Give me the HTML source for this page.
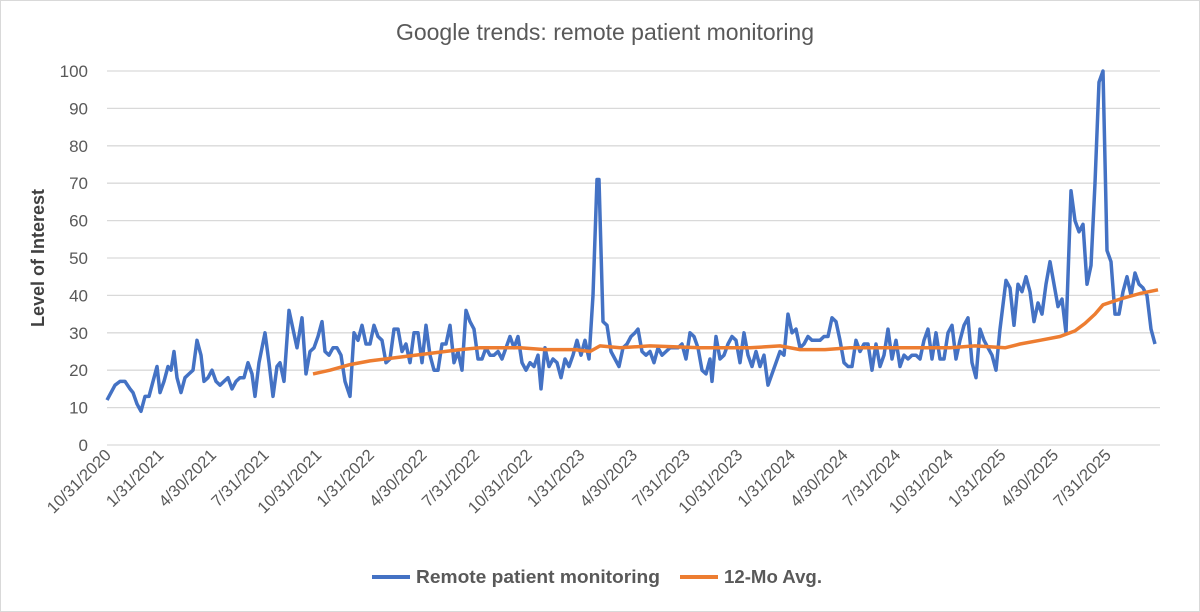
<!DOCTYPE html>
<html><head><meta charset="utf-8"><style>
body{margin:0;background:#fff;font-family:"Liberation Sans",sans-serif}
svg{display:block}
</style></head><body>
<svg id="s" width="1200" height="612" xmlns="http://www.w3.org/2000/svg" font-family="Liberation Sans, sans-serif">
<rect x="0.5" y="0.5" width="1199" height="611" fill="#fff" stroke="#d9d9d9"/>
<text x="605" y="40" text-anchor="middle" font-size="23" fill="#595959">Google trends: remote patient monitoring</text>
<text transform="translate(44,258) rotate(-90)" text-anchor="middle" font-size="18" font-weight="bold" fill="#404040">Level of Interest</text>
<g id="grid"></g>
<g id="xl"></g>
<polyline id="blue" fill="none" stroke="#4472c4" stroke-width="3.5" stroke-linejoin="round"/>
<polyline id="orng" fill="none" stroke="#ed7d31" stroke-width="3.5" stroke-linejoin="round"/>
<line x1="372" y1="577" x2="410" y2="577" stroke="#4472c4" stroke-width="4"/>
<text x="416" y="583" font-size="18.5" font-weight="bold" fill="#595959" textLength="244" lengthAdjust="spacingAndGlyphs">Remote patient monitoring</text>
<line x1="680" y1="577" x2="718" y2="577" stroke="#ed7d31" stroke-width="4"/>
<text x="724" y="583" font-size="18.5" font-weight="bold" fill="#595959" textLength="98" lengthAdjust="spacingAndGlyphs">12-Mo Avg.</text>
</svg>
<script>
function Y(v){return 445-v*3.74;}
var g=document.getElementById('grid'),s='';
for(var i=0;i<=10;i++){var y=Y(i*10);
s+='<line x1="107" x2="1160" y1="'+y+'" y2="'+y+'" stroke="#d9d9d9" stroke-width="1.3"/>';
s+='<text x="88" y="'+(y+6)+'" text-anchor="end" font-size="17" fill="#595959">'+(i*10)+'</text>';}
g.innerHTML=s;
var labs=["10/31/2020","1/31/2021","4/30/2021","7/31/2021","10/31/2021","1/31/2022","4/30/2022","7/31/2022","10/31/2022","1/31/2023","4/30/2023","7/31/2023","10/31/2023","1/31/2024","4/30/2024","7/31/2024","10/31/2024","1/31/2025","4/30/2025","7/31/2025"];
s='';for(var i=0;i<labs.length;i++){var x=107+i*52.63;
s+='<text transform="translate('+(x+5)+',456) rotate(-45)" text-anchor="end" font-size="16.5" fill="#595959">'+labs[i]+'</text>';}
document.getElementById('xl').innerHTML=s;
var b=[107,12,115,16,120,17,125,17,130,15,133,14,137,11,141,9,145,13,149,13,153,17,157,21,160,14,164,17,168,21,171,20,174,25,177,18,181,14,185,18,189,19,193,20,197,28,201,24,204,17,208,18,212,20,216,17,220,16,224,17,228,18,232,15,236,17,240,18,244,18,248,22,252,19,255,13,259,22,265,30,269,22,273,13,277,21,280,22,284,17,289,36,293,31,297,26,302,34,306,19,310,25,314,26,318,29,322,33,325,25,329,24,333,26,337,26,341,24,345,17,350,13,354,30,358,28,362,32,366,27,370,27,374,32,378,29,382,28,386,22,390,23,394,31,398,31,402,25,406,27,410,22,414,30,418,30,422,22,426,32,430,24,434,20,438,20,442,27,446,27,450,32,454,22,458,25,462,20,466,36,470,33,474,31,478,23,482,23,486,26,490,24,494,24,498,25,502,23,506,26,510,29,514,26,518,29,522,22,526,20,530,22,534,21,538,24,541,15,545,26,549,21,553,23,557,22,561,18,565,23,569,21,573,24,577,28,581,24,585,28,589,23,593,40,597,71,599,71,603,33,607,32,611,25,615,23,619,21,623,26,627,27,631,29,635,30,638,31,642,25,646,24,650,25,654,22,658,26,662,24,666,25,670,26,674,26,678,26,682,27,686,23,690,30,694,29,698,26,702,20,706,19,710,23,712,17,716,29,720,23,724,24,728,27,732,29,736,28,740,22,744,30,748,24,752,21,756,25,760,21,764,24,768,16,772,19,776,22,780,25,784,24,788,35,792,30,796,31,800,26,804,27,808,29,812,28,816,28,820,28,824,29,828,29,832,34,836,33,840,28,844,22,848,21,852,21,856,28,860,25,864,27,868,27,872,20,876,27,880,21,884,24,888,31,892,23,896,28,900,21,904,24,908,23,912,24,916,24,920,23,924,28,928,31,932,23,936,30,940,23,944,23,948,30,952,32,956,23,960,28,964,32,968,34,972,22,976,18,980,31,984,28,988,26,992,24,996,20,1000,31,1006,44,1010,42,1014,32,1018,43,1022,41,1026,45,1030,41,1034,33,1038,38,1042,35,1046,43,1050,49,1054,43,1058,37,1062,39,1066,30,1071,68,1075,60,1079,57,1083,59,1087,43,1091,48,1095,70,1099,97,1103,100,1107,52,1111,49,1115,35,1119,35,1123,41,1127,45,1131,40,1135,46,1139,43,1143,42,1147,40,1151,31,1155,27];
var o=[313,19,330,20,350,21.5,370,22.5,400,23.5,430,24.5,460,25.5,480,26,520,26,545,25.5,575,25.5,590,25,600,26.5,620,26,650,26.5,700,26,750,26,780,26.5,800,25.5,825,25.5,850,26,900,26,950,26,975,26.5,1005,26,1020,27,1040,28,1060,29,1075,30.5,1085,32.5,1095,35,1103,37.5,1120,39,1140,40.5,1158,41.5];
function pts(a){var r=[];for(var i=0;i<a.length;i+=2)r.push(a[i]+','+Y(a[i+1]).toFixed(1));return r.join(' ');}
document.getElementById('blue').setAttribute('points',pts(b));
document.getElementById('orng').setAttribute('points',pts(o));
</script>
</body></html>
